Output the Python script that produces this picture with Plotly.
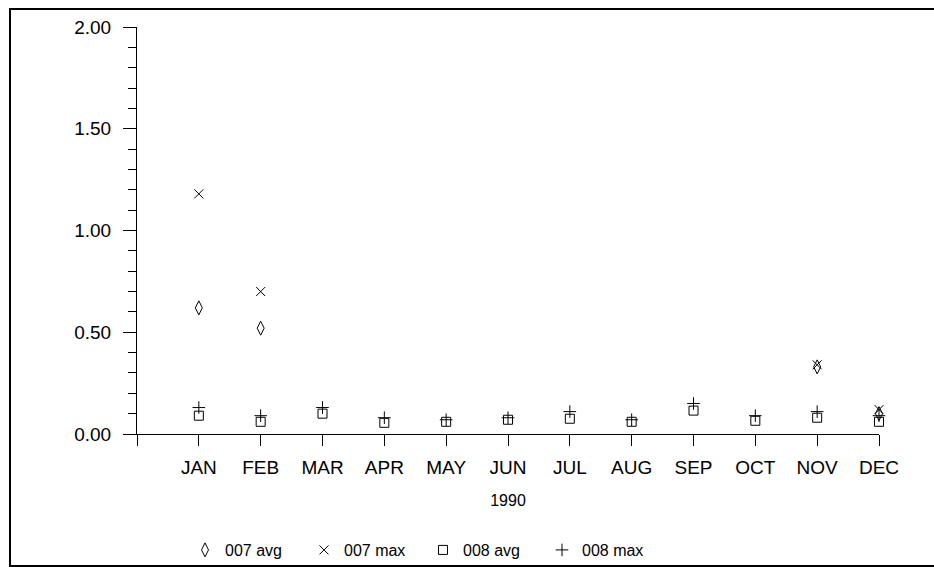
import plotly.graph_objects as go

# Monthly values, 1990
months = ["JAN", "FEB", "MAR", "APR", "MAY", "JUN",
          "JUL", "AUG", "SEP", "OCT", "NOV", "DEC"]
avg_007 = [0.62, 0.52, None, None, None, None, None, None, None, None, 0.33, 0.10]
max_007 = [1.18, 0.70, None, None, None, None, None, None, None, None, 0.34, 0.12]
avg_008 = [0.09, 0.06, 0.10, 0.055, 0.06, 0.07, 0.075, 0.06, 0.115, 0.065, 0.08, 0.06]
max_008 = [0.13, 0.09, 0.13, 0.08, 0.07, 0.08, 0.11, 0.07, 0.15, 0.09, 0.11, 0.09]
y_ticks = [0.0, 0.5, 1.0, 1.5, 2.0]

xpos = list(range(len(months)))
FONT = "Liberation Sans, Arial, Helvetica, sans-serif"

W, H = 934, 567
L, R, T, B = 137, 55, 27, 133

fig = go.Figure()

series = [
    ("007 avg", avg_007, "diamond-tall-open", 10),
    ("007 max", max_007, "x-thin-open", 9),
    ("008 avg", avg_008, "square-open", 9),
    ("008 max", max_008, "cross-thin-open", 9),
]
for name, vals, sym, size in series:
    fig.add_trace(go.Scatter(
        x=xpos, y=vals, mode="markers", name=name, cliponaxis=False,
        marker=dict(symbol=sym, size=size, color="black",
                    line=dict(color="black", width=1)),
    ))

# convert a pixel position on the page to paper coordinates
def px_x(p):
    return (p - L) / (W - L - R)

def px_y(p):
    return (H - B - p) / (H - T - B)

fig.update_layout(
    width=W, height=H,
    margin=dict(l=L, r=R, t=T, b=B, pad=0, autoexpand=False),
    paper_bgcolor="white", plot_bgcolor="white",
    font=dict(family=FONT, size=16, color="black"),
    showlegend=True,
    legend=dict(
        orientation="h", x=px_x(185), y=px_y(533), xanchor="left", yanchor="top",
        font=dict(family=FONT, size=16, color="black"),
        entrywidth=74, itemwidth=30, bgcolor="rgba(0,0,0,0)",
    ),
    shapes=[dict(
        type="rect", xref="paper", yref="paper",
        x0=px_x(10), x1=px_x(936), y0=px_y(566), y1=px_y(9),
        line=dict(color="black", width=2), layer="below",
    )],
)

fig.update_xaxes(
    range=[-1, len(months) - 1],
    automargin=False,
    tickmode="array",
    tickvals=[-1] + xpos, ticktext=[""] + months,
    ticks="outside", ticklen=11, tickwidth=1, tickcolor="black",
    ticklabelstandoff=5,
    tickfont=dict(family=FONT, size=19, color="black"),
    showline=True, linecolor="black", linewidth=1,
    showgrid=False, zeroline=False,
    title=dict(text="1990", font=dict(family=FONT, size=16, color="black"), standoff=18),
)

fig.update_yaxes(
    range=[0, 2],
    automargin=False,
    tickmode="array", tickvals=y_ticks,
    ticktext=[f"{v:.2f}" for v in y_ticks],
    ticks="outside", ticklen=13, tickwidth=1, tickcolor="black",
    ticklabelstandoff=8,
    tickfont=dict(family=FONT, size=19, color="black"),
    minor=dict(dtick=0.1, ticks="outside", ticklen=8, tickcolor="black", showgrid=False),
    showline=True, linecolor="black", linewidth=1,
    showgrid=False, zeroline=False,
)

fig.write_html("out.html")
